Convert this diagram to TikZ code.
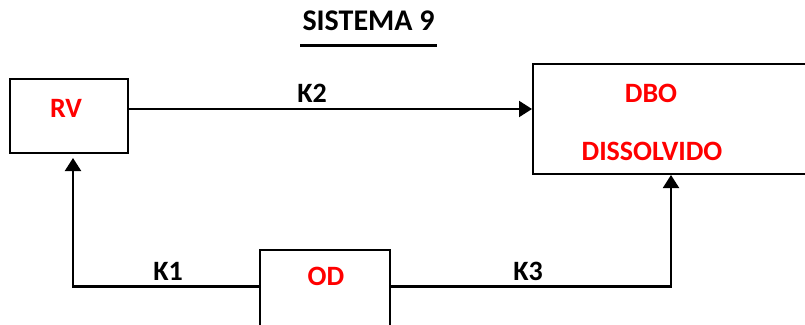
\documentclass[tikz,border=0pt]{standalone}
\usepackage{fontspec}
\setmainfont{Carlito}
\usetikzlibrary{arrows.meta}

\tikzset{
  box/.style={draw=black, line width=2pt, fill=white, inner sep=0pt},
  redlbl/.style={text=red, font=\fontsize{28}{30}\selectfont\bfseries, inner sep=0pt, anchor=center},
  klbl/.style={text=black, font=\fontsize{28}{30}\selectfont\bfseries, inner sep=0pt, anchor=center},
  flow/.style={draw=black, line width=2pt, -{Triangle[width=16pt,length=13pt]}},
  base/.style={draw=black, line width=3pt},
}

\begin{document}
\begin{tikzpicture}[x=1pt, y=-1pt]
  \useasboundingbox (0,0) rectangle (805,324);

  % title with its underline
  \node[klbl, font=\fontsize{30}{32}\selectfont\bfseries] (title) at (368.5,21) {SISTEMA 9};
  \draw[line width=2.5pt] (300,45.5) -- (437,45.5);

  % compartments
  \node[box, minimum width=118pt, minimum height=74pt] (rv) at (69,116) {};
  \node[redlbl] (rvt) at (66,108) {RV};

  \node[box, minimum width=285pt, minimum height=110pt] (dbo) at (675.5,119) {};
  \node[redlbl] (dbot1) at (651,93) {DBO};
  \node[redlbl] (dbot2) at (652,151) {DISSOLVIDO};

  \node[box, minimum width=130pt, minimum height=86pt] (od) at (325,293) {};
  \node[redlbl] (odt) at (326,276) {OD};

  % corners of the bottom flow line
  \coordinate (cl) at (73,286);
  \coordinate (cr) at (671,286);
  \coordinate (rvin) at (73,158);

  % connectors
  \draw[flow] (rv.east |- 0,109) -- (dbo.west |- 0,109);
  \draw[base] (od.west |- cl) -- ([xshift=-1pt]cl);
  \draw[flow] (cl) -- (rvin);
  \draw[base] (od.east |- cr) -- ([xshift=1pt]cr);
  \draw[flow] (cr) -- (dbo.south -| cr);

  % rate constants
  \node[klbl] (k2) at (312,93) {K2};
  \node[klbl] (k1) at (168,271) {K1};
  \node[klbl] (k3) at (528,271) {K3};
\end{tikzpicture}
\end{document}
